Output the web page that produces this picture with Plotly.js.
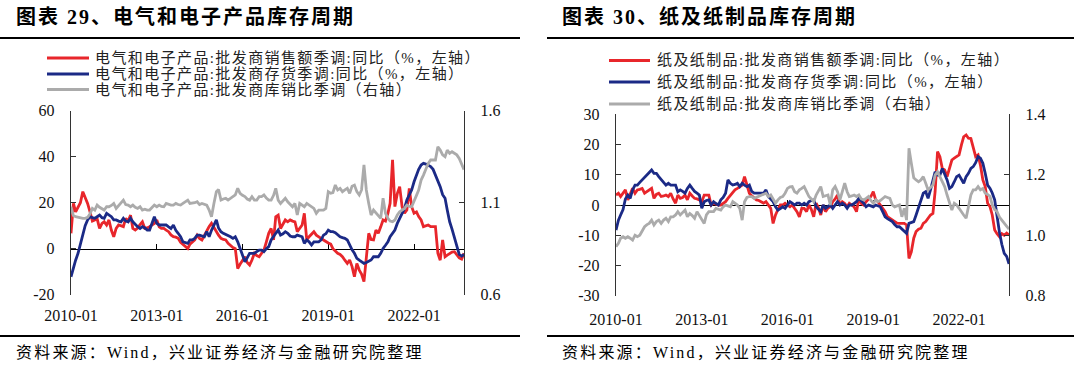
<!DOCTYPE html>
<html>
<head>
<meta charset="utf-8">
<script src="https://cdn.plot.ly/plotly-3.0.1.min.js"></script>
<style>
html,body{margin:0;padding:0;background:#fff;}
#chart{width:1080px;height:369px;}
.annotation[data-index="0"] text,.annotation[data-index="1"] text{letter-spacing:2px;}
.annotation[data-index="2"] text,.annotation[data-index="3"] text{letter-spacing:2.2px;}
.annotation[data-index="4"] text,.annotation[data-index="5"] text,.annotation[data-index="6"] text,
.annotation[data-index="7"] text,.annotation[data-index="8"] text,.annotation[data-index="9"] text{letter-spacing:1.4px;}
</style>
</head>
<body>
<div id="chart"></div>
<script>
// ---------- data (monthly, 2010-01 .. 2023-10) ----------
const firstYear = 2010;
const monthCount = 166;
const months = [];
for (let i = 0; i < monthCount; i++) {
  const y = firstYear + Math.floor(i / 12), m = (i % 12) + 1;
  months.push(y + '-' + (m < 10 ? '0' + m : m));
}

const xTickLabels = ['2010-01', '2013-01', '2016-01', '2019-01', '2022-01'];

// 图表29 电气和电子产品
const elecSalesName = '电气和电子产品:批发商销售额季调:同比（%，左轴）';
const elecInvName = '电气和电子产品:批发商存货季调:同比（%，左轴）';
const elecRatioName = '电气和电子产品:批发商库销比季调（右轴）';
const elecSales = [
  6.7, 19.7, 16, 18, 20, 24.8, 22.6, 19.7, 16, 12, 12.5, 13,
  8.8, 11, 11.7, 10.3, 12.5, 8, 5.2, 8.8, 10.3, 9.8, 9.6, 13.2,
  12, 14.6, 8.8, 8.1, 9, 10.5, 11.7, 8.8, 9, 9.6, 10.3, 11,
  12.5, 9.5, 8.8, 8.8, 8.1, 7.4, 6, 5.2, 5, 4.5, 2.8, 2,
  0.9, 0.1, 2, 3, 3.8, 5.9, 4.5, 3.8, 5.9, 8, 9.6, 11,
  9.5, 7.5, 5.9, 4.5, 4, 3.8, 2.3, 1.2, 0.5, 0, -8.6, -6.8,
  -5, -3.5, -6, -7.1, -4.9, -2, -3, -3.5, -2, -0.6, 3, 6.7,
  8.8, 3.8, 13.9, 14.6, 8.8, 11, 12.5, 11.7, 12.5, 12, 11.7, 7.4,
  9, 10.3, 15.4, 3.8, 5.2, 6.5, 7.4, 5.9, 5, 4.5, 3.8, 3,
  2.5, 2, 0, -1, -2, -2.5, -3.5, -5, -6.4, -4.9, -7.8, -12.2,
  -6.4, -9.3, -11, -14.3, -4.9, 6.7, 4, 3.8, 8.1, 6.7, 9.5, 12.5,
  12, 15.4, 19.7, 38.6, 18.3, 24, 27, 18.3, 15.4, 16.8, 26.2, 18.3,
  15.4, 16, 14, 12.5, 9.6, 10, 10.3, 9.6, 9.6, 9.6, -2, -5,
  3.8, -3.5, -2.8, -2, -1.5, -1.3, -2.5, -4, -4.5, -2
];
const elecInv = [
  -12.2, -7.8, -5, -2, 2, 6.7, 10, 12.5, 13.9, 13.5, 13.2, 13.9,
  14.6, 13.5, 13.2, 15.4, 14.5, 13.9, 12.5, 12.5, 12, 11.7, 13.2, 12,
  11.7, 13.2, 11.7, 10.5, 9.6, 8.8, 9.6, 9, 8.1, 8.1, 11, 13.9,
  11, 10.3, 10.3, 10.3, 10.3, 9.5, 8.8, 10.3, 8, 6.7, 5.2, 3,
  2.5, 2.3, 3.8, 3.8, 4.5, 5.9, 5.9, 5.5, 5.2, 7.4, 5.2, 8,
  10.3, 12.5, 9, 7.4, 6.7, 6.2, 5.9, 5.2, 4.5, 5.2, 3, 0,
  -3.5, -5.7, -4, -2, -2, -2, -1.3, -0.6, -0.6, -1.3, 0, 0.9,
  3.8, 5.5, 6.7, 8.1, 5.9, 6.5, 7.4, 6.7, 5.5, 5.2, 5.2, 5.9,
  5.5, 5.2, 2.3, 3.8, 3, 1.6, 3, 3, 3, 3.8, 5.9, 6.5,
  8.1, 7.4, 7.4, 7, 5.9, 5.2, 4.8, 4.5, 3.8, 1.5, -0.5, -2,
  -4.2, -5, -5.7, -6.4, -6, -5.5, -4.9, -3.5, -3.5, -3.5, -2, 0.1,
  1.5, 3, 5.2, 6.5, 8.1, 11, 13, 15, 17.5, 21.2, 23.5, 25.5,
  29.1, 32, 34.5, 36.4, 37.1, 36.8, 36.4, 35.7, 34.5, 32, 29.9, 27,
  23.5, 21.9, 16.8, 11.7, 8.5, 5, 1.5, -2.5, -3.2, -2.5
];
const elecRatio = [
  1.078, 1.03, 1.024, 1.02, 1.018, 1.015, 1.015, 1.02, 1.04, 1.069, 1.06, 1.087,
  1.075, 1.069, 1.06, 1.078, 1.078, 1.085, 1.096, 1.069, 1.085, 1.096, 1.114, 1.09,
  1.087, 1.078, 1.087, 1.075, 1.069, 1.078, 1.06, 1.065, 1.06, 1.06, 1.075, 1.087,
  1.078, 1.087, 1.08, 1.078, 1.096, 1.09, 1.087, 1.087, 1.096, 1.09, 1.087, 1.096,
  1.105, 1.114, 1.096, 1.096, 1.1, 1.105, 1.09, 1.096, 1.09, 1.087, 1.06, 1.024,
  1.096, 1.16, 1.172, 1.114, 1.12, 1.124, 1.114, 1.124, 1.13, 1.142, 1.178, 1.151,
  1.14, 1.133, 1.12, 1.114, 1.133, 1.114, 1.114, 1.133, 1.133, 1.142, 1.125, 1.114,
  1.114, 1.14, 1.178, 1.114, 1.096, 1.11, 1.124, 1.105, 1.09, 1.078, 1.096, 1.033,
  1.096, 1.085, 1.078, 1.096, 1.087, 1.075, 1.069, 1.042, 1.06, 1.06, 1.06, 1.069,
  1.16, 1.151, 1.155, 1.196, 1.169, 1.178, 1.16, 1.17, 1.178, 1.151, 1.19, 1.196,
  1.16, 1.142, 1.169, 1.305, 1.169, 1.096, 1.033, 1.06, 1.045, 1.033, 1.015, 1.124,
  1.042, 1.015, 1.0, 0.997, 1.006, 1.033, 1.051, 1.06, 1.069, 1.087, 1.08, 1.078,
  1.105, 1.14, 1.169, 1.223, 1.25, 1.278, 1.314, 1.332, 1.33, 1.332, 1.404, 1.386,
  1.36, 1.35, 1.386, 1.368, 1.377, 1.37, 1.36, 1.34, 1.31, 1.28
];

// 图表30 纸及纸制品
const paperSalesName = '纸及纸制品:批发商销售额季调:同比（%，左轴）';
const paperInvName = '纸及纸制品:批发商存货季调:同比（%，左轴）';
const paperRatioName = '纸及纸制品:批发商库销比季调（右轴）';
const paperSales = [
  3.3, 3.9, 2.8, 4, 5, 1.7, 3.5, 5.5, 3.9, 5, 5.2, 5.5,
  3.9, 4.5, 5, 5.5, 2.2, 3.5, 3.9, 2.8, 3, 3.3, 2.8, 3.9,
  2, 0.6, 3.3, 2.2, 2.5, 3.3, 1.7, 3.9, 3, 2.2, 2, 1.7,
  1.1, 3.3, 3.3, 3.3, 0, 0.6, 0.3, 0, 0, 0.5, 1.1, 2.2,
  3.3, 4, 5, 5.5, 6, 6.6, 9.4, 6.6, 3.9, 3, 2.2, 1.7,
  1.5, 1.1, 0.6, 1.1, 0, -1.1, -6.1, -3.3, -1.5, 0, 0, 0.6,
  0, -0.6, 0, -1, -2.2, -3.9, -1.1, -1.1, -2.2, 0, -1.5, -3.9,
  0.6, -1, -3.3, 0, -2.2, -1, -0.6, 1.1, 2, 3.3, 0, 1.1,
  0.5, -0.6, 0.6, 0, -0.6, -2.2, 2.2, 0.5, 0, 1.1, 2, 2.8,
  4.4, 1.7, 1.1, 0, -1.1, -2.2, -3.9, -4.5, -5, -5.5, -6, -6.1,
  -6.1, -6.1, -6.6, -17.7, -15.5, -11, -8.8, -8, -7.7, -6.1, -5.5, -4.5,
  -3.3, -2.8, 4.4, 17.7, 16, 12.1, 11.6, 9.4, 12.7, 14.9, 15.5, 16,
  16.6, 20, 22.6, 23.2, 22.1, 22, 19, 16, 16.6, 13.2, 8.3, 6.1,
  0.6, -0.6, -3.3, -8.3, -9.5, -10.5, -9.5, -10, -9.3, -10
];
const paperInv = [
  -8.3, -5, -3.3, -1.5, 2, 3.3, 2.2, 5, 6.6, 6.6, 7.5, 8.3,
  9.4, 10, 11, 11.6, 10.5, 10.5, 9.4, 8.3, 7.5, 6.6, 7.2, 6.6,
  6.6, 6.6, 4.4, 5, 4.5, 3.9, 5.5, 6.6, 5.5, 4.5, 3.9, 3.3,
  -1.1, 1.1, 1.5, 1.7, 0, 1.1, 0.5, 0, 1.7, 2.5, 3.9, 8.3,
  7.2, 6.6, 6.8, 7.2, 6.1, 7.2, 6.6, 6.1, 6.6, 4.5, 3.9, 3.9,
  3.9, 3.9, 3.9, 5, 2.8, 2, 1.1, -0.6, -1.7, -1.2, -0.6, -1.1,
  0, 1.1, 0.6, 0, 0.6, 0.6, 0, 0.6, 0, 1.1, 1.5, 1.7,
  -0.6, -1.5, -2.2, 0, -1.1, -0.5, 0, -1.1, 0, 1.1, 0, 0.6,
  0, -1.1, 0, 0, 0.5, 1.1, 2.2, 1.5, 0.6, -0.6, 0, -0.3,
  -0.6, 0, -0.3, -0.6, -2.2, -3.9, -4.5, -5, -5.5, -6.5, -7.2, -7.2,
  -8, -8.5, -9.4, -6.1, -5.8, -5.5, -3.3, -1.1, 1.5, 3.9, 4.4, 2.2,
  5, 8.3, 11, 9.9, 9.9, 12.1, 10.5, 8.3, 5.5, 6.1, 7.7, 9.4,
  9.9, 8.3, 7.2, 9.4, 10.5, 12.1, 12.7, 14, 16, 15.5, 13.8, 10.5,
  6.6, 5.5, 4, 1.7, -4, -9, -13, -16, -17, -19.5
];
const paperRatio = [
  0.962, 0.973, 0.99, 0.995, 0.99, 0.995, 0.99, 0.984, 1.0, 0.995, 1.0, 1.012,
  1.028, 1.035, 1.039, 1.05, 1.034, 1.045, 1.05, 1.039, 1.05, 1.056, 1.045, 1.061,
  1.061, 1.067, 1.078, 1.067, 1.075, 1.083, 1.061, 1.072, 1.065, 1.056, 1.078, 1.065,
  1.056, 1.039, 1.067, 1.078, 1.078, 1.078, 1.089, 1.085, 1.083, 1.094, 1.1, 1.097,
  1.094, 1.111, 1.105, 1.1, 1.089, 1.05, 1.111, 1.125, 1.128, 1.128, 1.122, 1.125,
  1.128, 1.133, 1.136, 1.139, 1.128, 1.133, 1.12, 1.106, 1.117, 1.125, 1.128, 1.139,
  1.155, 1.16, 1.161, 1.144, 1.139, 1.15, 1.155, 1.161, 1.144, 1.128, 1.12, 1.111,
  1.133, 1.15, 1.161, 1.128, 1.13, 1.133, 1.1, 1.15, 1.161, 1.144, 1.117, 1.144,
  1.172, 1.144, 1.128, 1.13, 1.133, 1.128, 1.133, 1.12, 1.117, 1.122, 1.128, 1.115,
  1.106, 1.117, 1.111, 1.115, 1.122, 1.128, 1.125, 1.122, 1.1, 1.094, 1.097, 1.1,
  1.061, 1.089, 1.05, 1.288, 1.238, 1.19, 1.183, 1.177, 1.183, 1.194, 1.172, 1.15,
  1.158, 1.166, 1.199, 1.21, 1.194, 1.175, 1.161, 1.133, 1.111, 1.083, 1.106, 1.1,
  1.089, 1.075, 1.067, 1.056, 1.1, 1.133, 1.15, 1.15, 1.161, 1.15, 1.155, 1.139,
  1.135, 1.128, 1.1, 1.085, 1.078, 1.06, 1.05, 1.04, 1.03, 1.02
];

const elecLeftTicks = [-20, 0, 20, 40, 60];
const elecLeftLabels = ['-20', '0', '20', '40', '60'];
const elecRightTicks = [0.6, 1.1, 1.6];
const elecRightLabels = ['0.6', '1.1', '1.6'];
const paperLeftTicks = [-30, -20, -10, 0, 10, 20, 30];
const paperLeftLabels = ['-30', '-20', '-10', '0', '10', '20', '30'];
const paperRightTicks = [0.8, 1.0, 1.2, 1.4];
const paperRightLabels = ['0.8', '1.0', '1.2', '1.4'];

const titleLeft = '图表 29、电气和电子产品库存周期';
const titleRight = '图表 30、纸及纸制品库存周期';
const sourceText = '资料来源：Wind，兴业证券经济与金融研究院整理';

// ---------- styling / layout ----------
const RED = '#e8262b', BLUE = '#1b2a86', GRAY = '#ababab';
const W = 1080, H = 369;
const px = v => v / W;
const py = v => 1 - v / H;
const SERIF = '"Liberation Serif", "Times New Roman", serif';
const MIXED = '"Liberation Serif", "Noto Sans CJK SC", serif';
const tickFont = {family: SERIF, size: 16, color: '#111'};

const LX = [px(71), px(464)], LY = [py(294.7), py(110.7)];
const RX = [px(616), px(1009)], RY = [py(295.6), py(114.4)];
const lRange = [-20, 60], rRange = [-30, 30];
const lZero = LY[0] + (0 - lRange[0]) / (lRange[1] - lRange[0]) * (LY[1] - LY[0]);
const rZero = RY[0] + (0 - rRange[0]) / (rRange[1] - rRange[0]) * (RY[1] - RY[0]);
const xRange = ['2010-01-01', '2023-10-01'];

function lineTrace(y, name, color, xa, ya) {
  return {x: months, y: y, name: name, type: 'scatter', mode: 'lines',
    xaxis: xa, yaxis: ya, showlegend: false,
    line: {color: color, width: 2.8}, hoverinfo: 'skip'};
}

const data = [
  lineTrace(elecSales, elecSalesName, RED, 'x', 'y'),
  lineTrace(elecInv, elecInvName, BLUE, 'x', 'y'),
  lineTrace(elecRatio, elecRatioName, GRAY, 'x', 'y2'),
  lineTrace(paperSales, paperSalesName, RED, 'x2', 'y3'),
  lineTrace(paperInv, paperInvName, BLUE, 'x2', 'y3'),
  lineTrace(paperRatio, paperRatioName, GRAY, 'x2', 'y4')
];

function xAxis(domain, pos, standoff) {
  return {domain: domain, anchor: 'free', position: pos, type: 'date', range: xRange,
    tickvals: xTickLabels, ticktext: xTickLabels, ticks: 'inside', ticklen: 5,
    tickcolor: '#000', tickwidth: 1, showline: true, linecolor: '#000', linewidth: 1,
    showgrid: false, zeroline: false, layer: 'below traces', tickfont: tickFont,
    ticklabelstandoff: standoff, fixedrange: true};
}
function yAxis(extra) {
  return Object.assign({ticks: 'inside', ticklen: 5, tickcolor: '#333', tickwidth: 1,
    showline: true, linecolor: '#333', linewidth: 1.3, showgrid: false, zeroline: false,
    tickfont: tickFont, ticklabelstandoff: 12, fixedrange: true}, extra);
}

const legendRowsL = [58, 74, 89.5];
const legendRowsR = [60.5, 82, 104];
const legendNamesL = [elecSalesName, elecInvName, elecRatioName];
const legendNamesR = [paperSalesName, paperInvName, paperRatioName];
const legendColors = [RED, BLUE, GRAY];

const annotations = [
  {text: titleLeft, x: px(14), y: py(17)},
  {text: titleRight, x: px(560), y: py(17)},
].map(a => Object.assign(a, {font: {family: MIXED, size: 20, color: '#000', weight: 'bold'}}))
.concat([
  {text: sourceText, x: px(14), y: py(352)},
  {text: sourceText, x: px(560), y: py(352)}
].map(a => Object.assign(a, {font: {family: MIXED, size: 16, color: '#000'}})))
.concat(legendNamesL.map((t, i) => ({text: t, x: px(93), y: py(legendRowsL[i]),
  font: {family: MIXED, size: 15, color: '#222'}})))
.concat(legendNamesR.map((t, i) => ({text: t, x: px(655), y: py(legendRowsR[i]),
  font: {family: MIXED, size: 15, color: '#222'}})))
.map(a => Object.assign({xref: 'paper', yref: 'paper', xanchor: 'left', yanchor: 'middle',
  align: 'left', showarrow: false}, a));

const shapes = [
  // rules
  {x0: px(0), x1: px(520), y0: py(38), y1: py(38)},
  {x0: px(547), x1: px(1074), y0: py(38), y1: py(38)},
  {x0: px(0), x1: px(520), y0: py(336), y1: py(336)},
  {x0: px(547), x1: px(1074), y0: py(336), y1: py(336)}
].map(s => Object.assign({type: 'line', xref: 'paper', yref: 'paper',
  line: {color: '#000', width: 2}}, s))
.concat(legendRowsL.map((r, i) => ({type: 'line', xref: 'paper', yref: 'paper',
  x0: px(47), x1: px(89), y0: py(r), y1: py(r), line: {color: legendColors[i], width: 3}})))
.concat(legendRowsR.map((r, i) => ({type: 'line', xref: 'paper', yref: 'paper',
  x0: px(609), x1: px(650), y0: py(r), y1: py(r), line: {color: legendColors[i], width: 3}})));

const layout = {
  width: W, height: H,
  margin: {l: 0, r: 0, t: 0, b: 0, pad: 0},
  paper_bgcolor: '#fff', plot_bgcolor: '#fff',
  showlegend: false,
  xaxis: xAxis(LX, lZero, 52),
  yaxis: yAxis({domain: LY, anchor: 'x', range: lRange, tickvals: elecLeftTicks, ticktext: elecLeftLabels}),
  yaxis2: yAxis({overlaying: 'y', side: 'right', anchor: 'x', range: [0.6, 1.6],
    tickvals: elecRightTicks, ticktext: elecRightLabels}),
  xaxis2: xAxis(RX, rZero, 100),
  yaxis3: yAxis({domain: RY, anchor: 'x2', range: rRange, tickvals: paperLeftTicks, ticktext: paperLeftLabels}),
  yaxis4: yAxis({overlaying: 'y3', side: 'right', anchor: 'x2', range: [0.8, 1.4],
    tickvals: paperRightTicks, ticktext: paperRightLabels}),
  annotations: annotations,
  shapes: shapes
};

Plotly.newPlot('chart', data, layout, {displayModeBar: false, staticPlot: true});
</script>
</body>
</html>
